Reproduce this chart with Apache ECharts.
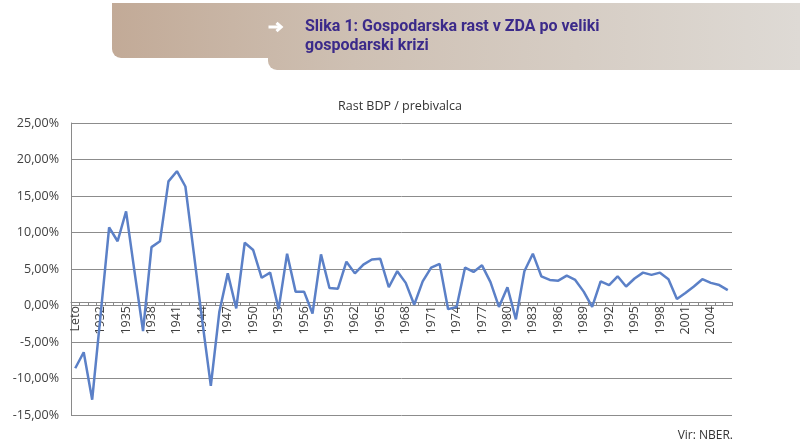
<!DOCTYPE html>
<html>
<head>
<meta charset="utf-8">
<script src="https://cdn.jsdelivr.net/npm/echarts@6/dist/echarts.min.js"></script>
<style>
html,body{margin:0;padding:0;background:#fff;}
#c{width:800px;height:445px;}
</style>
</head>
<body>
<div id="c"></div>
<script>
var categories = ["Leto","1930","1931","1932","1933","1934","1935","1936","1937","1938","1939",
  "1940","1941","1942","1943","1944","1945","1946","1947","1948","1949",
  "1950","1951","1952","1953","1954","1955","1956","1957","1958","1959",
  "1960","1961","1962","1963","1964","1965","1966","1967","1968","1969",
  "1970","1971","1972","1973","1974","1975","1976","1977","1978","1979",
  "1980","1981","1982","1983","1984","1985","1986","1987","1988","1989",
  "1990","1991","1992","1993","1994","1995","1996","1997","1998","1999",
  "2000","2001","2002","2003","2004","2005","2006"];

// Rast BDP / prebivalca (%)
var growth = [-8.6,-6.4,-12.9,-1.2,10.7,8.8,12.9,4.6,-3.5,8.0,
  8.8,17.0,18.4,16.3,7.1,-2.2,-11.0,-0.9,4.4,-0.4,
  8.6,7.6,3.8,4.5,-0.5,7.1,1.9,1.9,-1.1,7.0,
  2.4,2.3,6.0,4.4,5.6,6.3,6.4,2.5,4.7,3.1,
  0.1,3.3,5.2,5.7,-0.5,-0.2,5.2,4.6,5.5,3.2,
  -0.2,2.5,-1.9,4.7,7.1,4.0,3.5,3.4,4.1,3.5,
  1.9,-0.2,3.3,2.8,4.0,2.6,3.7,4.5,4.2,4.5,
  3.6,0.9,1.7,2.6,3.6,3.1,2.8,2.1];

var yTicks = {min: -15, max: 25, interval: 5};

var chart = echarts.init(document.getElementById('c'), null, {renderer: 'canvas'});
var grad = new echarts.graphic.LinearGradient(112, 0, 800, 0, [
  {offset: 0, color: '#c2aa97'},
  {offset: 0.35, color: '#cec0b3'},
  {offset: 1, color: '#dedad5'}
], true);

var GRID_BOTTOM = 30;

chart.setOption({
  animation: false,
  backgroundColor: '#ffffff',
  title: {
    text: 'Rast BDP / prebivalca',
    left: 395, top: 95, textAlign: 'center',
    textStyle: {fontFamily: 'Open Sans', fontSize: 12.5, fontWeight: 'normal', color: '#333333'}
  },
  grid: {left: 71, right: 68, top: 123, bottom: GRID_BOTTOM, containLabel: false},
  xAxis: {
    type: 'category',
    data: categories,
    boundaryGap: true,
    position: 'bottom',
    offset: 0,
    axisLine: {onZero: false, lineStyle: {color: '#8a8a8a', width: 1}},
    axisTick: {show: true, interval: 0, length: 4, lineStyle: {color: '#8a8a8a'}},
    axisLabel: {interval: 2, rotate: 90, margin: 4, color: '#404040', fontFamily: 'Open Sans', fontSize: 12.5},
    splitLine: {show: false}
  },
  yAxis: {
    type: 'value',
    min: yTicks.min, max: yTicks.max, interval: yTicks.interval,
    axisLine: {show: true, lineStyle: {color: '#8a8a8a'}},
    axisTick: {show: false},
    axisLabel: {
      margin: 12, color: '#404040', fontFamily: 'Open Sans', fontSize: 12.5,
      formatter: function (v) { return v.toFixed(2).replace('.', ',') + '%'; }
    },
    splitLine: {lineStyle: {color: '#8c8c8c', width: 1}}
  },
  series: [{
    type: 'line',
    data: growth,
    symbol: 'none',
    lineStyle: {color: '#5b80c7', width: 2.5},
    z: 3
  }],
  graphic: [
    {type: 'rect', shape: {x: 112, y: 3, width: 700, height: 55, r: [0, 0, 0, 9]}, style: {fill: grad}, z: 0},
    {type: 'rect', shape: {x: 268, y: 3, width: 540, height: 67, r: [0, 0, 0, 9]}, style: {fill: grad}, z: 0},
    {type: 'polyline', shape: {points: [[268.5, 27], [281, 27]]}, style: {stroke: '#ffffff', lineWidth: 3}, z: 2},
    {type: 'polyline', shape: {points: [[276.5, 22.8], [281.2, 27], [276.5, 31.2]]}, style: {stroke: '#ffffff', lineWidth: 3, fill: null, lineJoin: 'miter'}, z: 2},
    {type: 'text', left: 305, top: 17, style: {
      text: 'Slika 1: Gospodarska rast v ZDA po veliki\ngospodarski krizi',
      fill: '#3b2a8a', font: 'bold 16px Roboto, sans-serif', lineHeight: 19}, z: 2},
    {type: 'text', right: 67, top: 430, style: {text: 'Vir: NBER.', fill: '#333333', font: '12px "Open Sans"'}, z: 2}
  ]
});

// place the category axis on the zero line, using the value axis' own scale
var zeroY = chart.convertToPixel({yAxisIndex: 0}, 0);
var bottomY = chart.getHeight() - GRID_BOTTOM;
chart.setOption({xAxis: {offset: zeroY - bottomY}});
</script>
</body>
</html>
